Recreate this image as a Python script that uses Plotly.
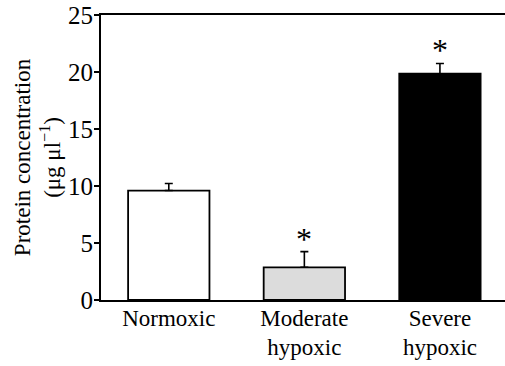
import plotly.graph_objects as go

categories = ["Normoxic", "Moderate<br>hypoxic", "Severe<br>hypoxic"]
values = [9.6, 2.87, 19.85]
errors_plus = [0.62, 1.37, 0.9]
significant = [False, True, True]
bar_colors = ["#ffffff", "#dcdcdc", "#000000"]
y_ticks = [0, 5, 10, 15, 20, 25]

FONT = "Liberation Serif, Times New Roman, serif"

fig = go.Figure()
fig.add_trace(go.Bar(
    x=list(range(len(categories))),
    y=values,
    width=0.6,
    marker=dict(color=bar_colors, line=dict(color="black", width=1.8)),
    error_y=dict(type="data", symmetric=False, array=errors_plus,
                 arrayminus=[0] * len(values), color="black",
                 thickness=1.6, width=4),
    showlegend=False,
))

for i, (v, e, s) in enumerate(zip(values, errors_plus, significant)):
    if s:
        fig.add_annotation(x=i, y=v + e, text="*", showarrow=False,
                           yanchor="bottom", yshift=-7,
                           font=dict(family=FONT, size=32, color="black"))

fig.update_layout(
    width=505, height=366,
    margin=dict(l=101, r=0, t=15, b=66),
    paper_bgcolor="white", plot_bgcolor="white",
    font=dict(family=FONT, size=23, color="black"),
    bargap=0.4,
)
fig.update_xaxes(
    range=[-0.5, 2.48],
    tickmode="array", tickvals=list(range(len(categories))), ticktext=categories,
    showline=True, linecolor="black", linewidth=1.8, mirror=True,
    ticks="", showgrid=False, zeroline=False,
    tickfont=dict(family=FONT, size=23),
    ticklabelstandoff=-4,
)
fig.update_yaxes(
    range=[0, 25], tickvals=y_ticks,
    showline=True, linecolor="black", linewidth=1.8,
    ticks="outside", ticklen=5, tickwidth=1.6, tickcolor="black",
    showgrid=False, zeroline=False,
    tickfont=dict(family=FONT, size=25),
    ticklabelstandoff=-4,
    title=dict(text="Protein concentration<br>(μg μl<sup>−1</sup>)",
               font=dict(family=FONT, size=23), standoff=1),
)

fig.write_html("out.html")
